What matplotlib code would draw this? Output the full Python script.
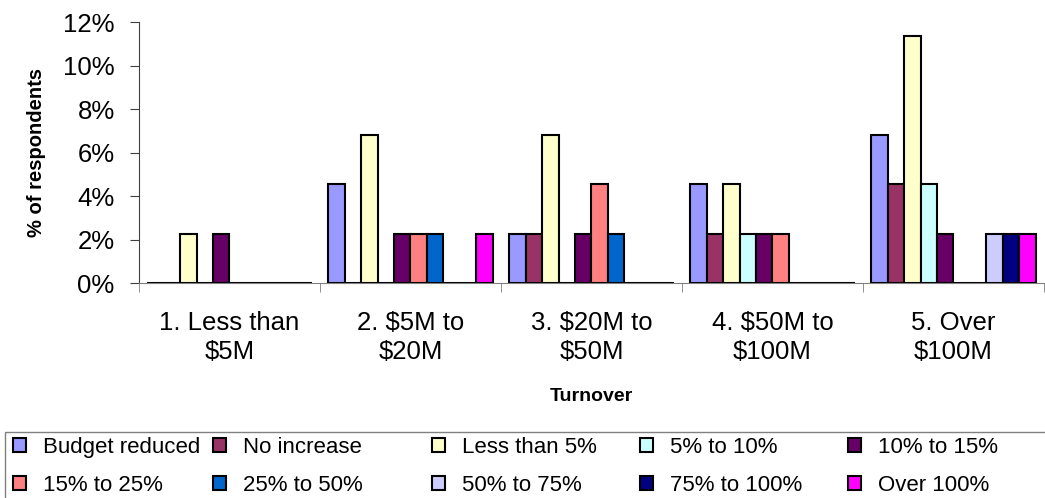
import matplotlib.pyplot as plt
from matplotlib.patches import Rectangle
import numpy as np

plt.rcParams['font.family'] = ['Liberation Sans', 'DejaVu Sans']

groups = ["1. Less than\n$5M", "2. $5M to\n$20M", "3. $20M to\n$50M",
          "4. $50M to\n$100M", "5. Over\n$100M"]
series = ["Budget reduced", "No increase", "Less than 5%", "5% to 10%",
          "10% to 15%", "15% to 25%", "25% to 50%", "50% to 75%",
          "75% to 100%", "Over 100%"]
colors = ["#9999FF", "#993366", "#FFFFCC", "#CCFFFF", "#660066",
          "#FF8080", "#0066CC", "#CCCCFF", "#000080", "#FF00FF"]

# % of respondents, one list per series, one value per turnover group
budget_reduced = [0, 4.55, 2.27, 4.55, 6.82]
no_increase = [0, 0, 2.27, 2.27, 4.55]
less_than_5 = [2.27, 6.82, 6.82, 4.55, 11.36]
p5_to_10 = [0, 0, 0, 2.27, 4.55]
p10_to_15 = [2.27, 2.27, 2.27, 2.27, 2.27]
p15_to_25 = [0, 2.27, 4.55, 2.27, 0]
p25_to_50 = [0, 2.27, 2.27, 0, 0]
p50_to_75 = [0, 0, 0, 0, 2.27]
p75_to_100 = [0, 0, 0, 0, 2.27]
over_100 = [0, 2.27, 0, 0, 2.27]
values = [budget_reduced, no_increase, less_than_5, p5_to_10, p10_to_15,
          p15_to_25, p25_to_50, p50_to_75, p75_to_100, over_100]

fig = plt.figure(figsize=(10.45, 4.98), dpi=100)
ax = fig.add_axes([0.133, 0.4317, 0.866, 0.5241])

x = np.arange(len(groups))
w = 1 / 11
handles = []
for i, (name, vals, c) in enumerate(zip(series, values, colors)):
    h = ax.bar(x - 0.5 + w + i * w, vals, width=w, color=c,
               edgecolor="black", linewidth=1.5, label=name)
    handles.append(h)

ax.set_xlim(-0.5, len(groups) - 0.5)
ax.set_ylim(0, 12)
ax.set_yticks(np.arange(0, 13, 2))
ax.set_yticklabels([f"{v}%" for v in range(0, 13, 2)], fontsize=18.5)
ax.set_xticks(x)
ax.set_xticklabels(groups, fontsize=18.5, linespacing=1.3)
ax.set_xticks(np.arange(-0.5, len(groups)), minor=True)
ax.tick_params(axis="x", which="major", length=0, pad=20)
ax.tick_params(axis="x", which="minor", length=6.5, color="#808080", direction="out")
ax.tick_params(axis="y", length=6.5, color="#404040", direction="out", pad=11)
for s in ["top", "right"]:
    ax.spines[s].set_visible(False)
ax.spines["left"].set_color("#404040")
ax.spines["bottom"].set_color("#808080")

ax.set_ylabel("% of respondents", fontsize=14.5, fontweight="bold", labelpad=12)
ax.set_xlabel("Turnover", fontsize=14, fontweight="bold", labelpad=17)

# legend: Excel lays out 2 rows x 5 equal-ish columns inside one box
col_x = [13, 213, 432, 640, 848]
for j, cx in enumerate(col_x):
    idx = [j, j + 5]
    leg = fig.legend([handles[i] for i in idx], [series[i] for i in idx],
                     loc="upper left", bbox_to_anchor=(cx / 1045, 1 - 437 / 498),
                     fontsize=16, frameon=False, borderaxespad=0, borderpad=0,
                     handlelength=0.6, handleheight=0.6, handletextpad=0.75,
                     labelspacing=0.76)
fig.patches.append(Rectangle((5 / 1045, -0.02), 1.02, 1 - 432 / 498 + 0.02,
                             transform=fig.transFigure, fill=False,
                             edgecolor="#808080", linewidth=1.0))

fig.savefig("out.png", dpi=100)
